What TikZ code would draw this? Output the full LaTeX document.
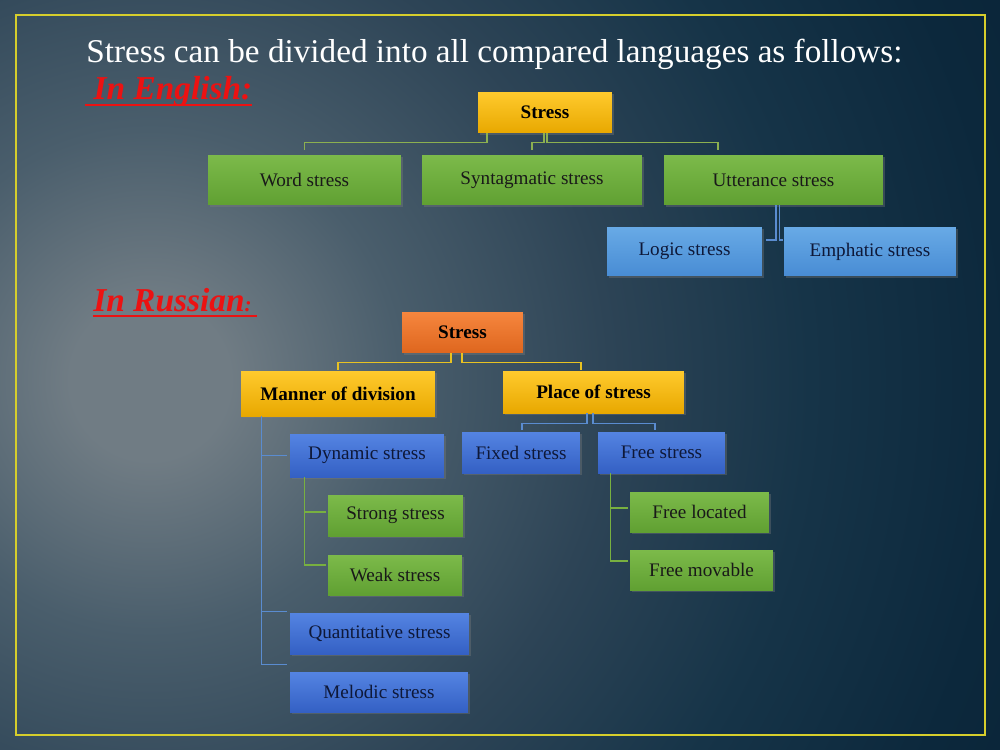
\documentclass[tikz,border=0pt]{standalone}
\usepackage{fontspec}
\setmainfont{Liberation Serif}
\newcommand{\thickul}[1]{\setbox0\hbox{#1}\rlap{\rule[-3.4pt]{\wd0}{1.1pt}}\box0}
\usetikzlibrary{shadows,calc}

\definecolor{bgA}{RGB}{112,124,132}
\definecolor{bgB}{RGB}{74,94,108}
\definecolor{bgC}{RGB}{45,68,86}
\definecolor{bgD}{RGB}{22,52,72}
\definecolor{bgE}{RGB}{12,40,60}
\definecolor{bgF}{RGB}{10,36,55}
\pgfdeclareradialshading{bgshade}{\pgfpoint{0bp}{0bp}}{color(0bp)=(bgA); color(2bp)=(bgA); color(6.25bp)=(bgB); color(11.5bp)=(bgC); color(16.5bp)=(bgD); color(21.5bp)=(bgE); color(25bp)=(bgF); color(50bp)=(bgF)}

\definecolor{frameC}{RGB}{214,206,44}
\definecolor{goldT}{RGB}{255,202,45}
\definecolor{goldB}{RGB}{232,168,0}
\definecolor{greenT}{RGB}{124,186,74}
\definecolor{greenB}{RGB}{96,160,50}
\definecolor{lblueT}{RGB}{104,170,230}
\definecolor{lblueB}{RGB}{72,140,212}
\definecolor{dblueT}{RGB}{84,132,226}
\definecolor{dblueB}{RGB}{52,96,196}
\definecolor{orangeT}{RGB}{246,134,62}
\definecolor{orangeB}{RGB}{222,102,30}
\definecolor{navyText}{RGB}{14,24,56}
\definecolor{redC}{RGB}{236,18,18}
\definecolor{lineG}{RGB}{140,176,80}
\definecolor{lineG2}{RGB}{120,176,64}
\definecolor{lineB}{RGB}{90,140,208}
\definecolor{lineY}{RGB}{232,194,34}

\begin{document}
\begin{tikzpicture}[x=0.02cm,y=-0.02cm,
  box/.style={inner sep=0pt, font=\fontsize{10.9}{13}\selectfont,
    drop shadow={shadow xshift=1.3pt,shadow yshift=-1.3pt,opacity=0.35}},
  goldbox/.style={box, top color=goldT, bottom color=goldB, text=black, font=\fontsize{10.9}{13}\selectfont\bfseries},
  orangebox/.style={box, top color=orangeT, bottom color=orangeB, text=black, font=\fontsize{10.9}{13}\selectfont\bfseries},
  greenbox/.style={box, top color=greenT, bottom color=greenB, text=black!90},
  lbluebox/.style={box, top color=lblueT, bottom color=lblueB, text=navyText},
  dbluebox/.style={box, top color=dblueT, bottom color=dblueB, text=navyText},
  gline/.style={draw=lineG, line width=0.7pt},
  gline2/.style={draw=lineG2, line width=0.7pt},
  bline/.style={draw=lineB, line width=0.7pt},
  yline/.style={draw=lineY, line width=0.8pt},
  heading/.style={anchor=base west, inner sep=0pt, text=redC, font=\fontsize{19}{22}\selectfont\bfseries\itshape}
]
\useasboundingbox (0,0) rectangle (1000,750);
\begin{scope}
  \clip (0,0) rectangle (1000,750);
  \shade[shading=bgshade] (150,380) circle (1000);
\end{scope}
\draw[frameC, line width=1.2pt] (16,15) rectangle (985,735);

% Title and headings
\node[anchor=base west, inner sep=0pt, text=white, font=\fontsize{18.9}{22}\selectfont] (title) at (86,63) {Stress can be divided into all compared languages as follows:};
\node[heading] (eng) at (85,100) {\thickul{\ In English:}};
\node[heading] (rus) at (93,311) {\thickul{In Russian{\fontsize{12}{14}\selectfont:}\,}};

% English tree
\node[goldbox, minimum width=2.68cm, minimum height=0.82cm] (es) at (545,112.5) {Stress};
\node[greenbox, minimum width=3.86cm, minimum height=1.0cm] (ws) at (304.5,180) {Word stress};
\node[greenbox, minimum width=4.4cm, minimum height=1.0cm] (ss) at (532,180) {Syntagmatic stress};
\node[greenbox, minimum width=4.38cm, minimum height=1.0cm] (us) at (773.5,180) {Utterance stress};
\node[lbluebox, minimum width=3.1cm, minimum height=0.98cm] (ls) at (684.5,251.5) {Logic stress};
\node[lbluebox, minimum width=3.44cm, minimum height=0.98cm] (em) at (870,251.5) {Emphatic stress};

\draw[gline] ($(es.south)+(-58,0)$) -- ++(0,9) -| ($(ws.north)+(0,-5)$);
\draw[gline] ($(es.south)+(-1,0)$) -- ++(0,9) -| ($(ss.north)+(0,-5)$);
\draw[gline] ($(es.south)+(2,0)$) -- ++(0,9) -| ($(us.north)+(-55.5,-5)$);
\draw[bline] ($(us.south)+(2.5,0)$) |- ($(ls.east)+(4,-11.5)$);
\draw[bline] ($(us.south)+(6,0)$) |- ($(em.west)+(-1,-11.5)$);

% Russian tree
\node[orangebox, minimum width=2.42cm, minimum height=0.82cm] (rs) at (462.5,332.5) {Stress};
\node[goldbox, minimum width=3.88cm, minimum height=0.9cm] (md) at (338,393.5) {Manner of division};
\node[goldbox, minimum width=3.62cm, minimum height=0.84cm] (ps) at (593.5,392) {Place of stress};
\node[dbluebox, minimum width=3.08cm, minimum height=0.86cm] (ds) at (367,455.5) {Dynamic stress};
\node[dbluebox, minimum width=2.36cm, minimum height=0.82cm] (fx) at (521,452.5) {Fixed stress};
\node[dbluebox, minimum width=2.54cm, minimum height=0.82cm] (fr) at (661.5,452.5) {Free stress};
\node[greenbox, minimum width=2.7cm, minimum height=0.82cm] (st) at (395.5,515.5) {Strong stress};
\node[greenbox, minimum width=2.68cm, minimum height=0.8cm] (wk) at (395,575) {Weak stress};
\node[dbluebox, minimum width=3.58cm, minimum height=0.82cm] (qt) at (379.5,633.5) {Quantitative stress};
\node[dbluebox, minimum width=3.56cm, minimum height=0.8cm] (ml) at (379,692) {Melodic stress};
\node[greenbox, minimum width=2.78cm, minimum height=0.8cm] (fl) at (699.5,512) {Free located};
\node[greenbox, minimum width=2.86cm, minimum height=0.8cm] (fm) at (701.5,570) {Free movable};

\draw[yline] ($(rs.south)+(-11.5,0)$) -- ++(0,9) -| ($(md.north)+(0,-1)$);
\draw[yline] ($(rs.south)+(-0.5,0)$) -- ++(0,9) -| ($(ps.north)+(-12.5,-1)$);
\draw[bline] ($(ps.south)+(-6.5,0)$) -- ++(0,10) -| ($(fx.north)+(1,-2)$);
\draw[bline] ($(ps.south)+(-0.5,0)$) -- ++(0,10) -| ($(fr.north)+(-6.5,-2)$);

\coordinate (mdx) at ($(md.south west)+(21,0)$);
\draw[bline] (mdx) -- ($(mdx |- ml.north)+(0,-7)$) -- ++(25,0);
\draw[bline] (mdx |- ds.west) -- ($(ds.west)+(-3,0)$);
\draw[bline] ($(mdx |- qt.north)+(0,-1)$) -- ++(25,0);

\coordinate (dsx) at ($(ds.south west)+(15,0)$);
\draw[gline2] (dsx) -- ($(dsx |- wk.west)+(0,-10)$) -- ++(21,0);
\draw[gline2] ($(dsx |- st.west)+(0,-3.5)$) -- ++(21,0);

\coordinate (frx) at ($(fr.south west)+(13,0)$);
\draw[gline2] (frx) -- ($(frx |- fm.west)+(0,-9)$) -- ++(17,0);
\draw[gline2] ($(frx |- fl.west)+(0,-4)$) -- ++(17,0);
\end{tikzpicture}
\end{document}
